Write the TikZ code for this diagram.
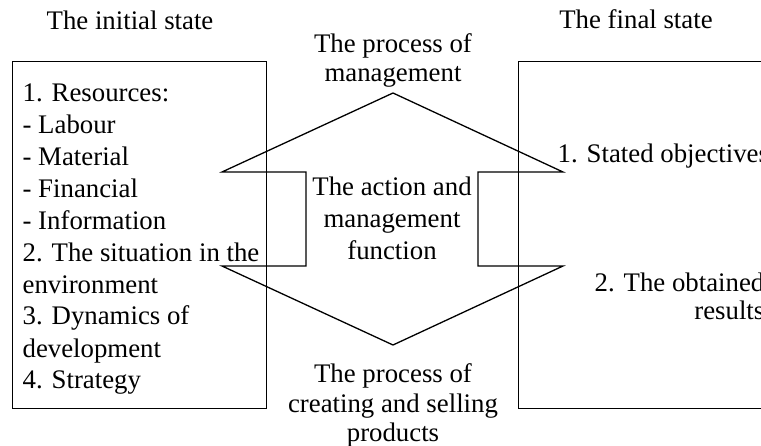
\documentclass[tikz,border=0pt]{standalone}
\usepackage{fontspec}
\setmainfont{Liberation Serif}
\usetikzlibrary{positioning}

\begin{document}
\begin{tikzpicture}[
    x=1pt,y=-1pt,line width=1.3pt,
    statebox/.style={draw, rectangle, inner sep=0pt, minimum height=347pt, anchor=north west},
    txt/.style={inner sep=0pt, font=\fontsize{26.8}{32}\selectfont},
    proc/.style={txt, align=center, font=\fontsize{26.8}{29.5}\selectfont}
]
    \useasboundingbox (0,0) rectangle (761,446);
    \clip (0,0) rectangle (761,446);

    % State boxes
    \node[statebox, minimum width=254pt] (initbox) at (12,61) {};
    \node[statebox, minimum width=320pt] (finalbox) at (518,61) {};

    % Headers
    \node[txt, anchor=base] (inithead) at (130,30) {The initial state};
    \node[txt, anchor=base] (finalhead) at (636,29) {The final state};

    % Box contents (multi-line nodes sit on their last baseline)
    \node[txt, align=left, anchor=base west] (initlist) at (22,389)
        {1. Resources:\\- Labour\\- Material\\- Financial\\- Information\\2. The situation in the\\environment\\3. Dynamics of\\development\\4. Strategy};
    \node[txt, anchor=base west] (goals) at (557,163) {1. Stated objectives};
    \node[txt, align=right, anchor=base east, font=\fontsize{26.8}{28.5}\selectfont] (results) at (765,320) {2. The obtained\\results};

    % Double arrow
    \coordinate (uptip) at (393,93);
    \coordinate (downtip) at (393,345);
    \draw (222,172) -- (uptip) -- (563,172) -- (478,172) -- (478,266) -- (563,266)
        -- (downtip) -- (222,266) -- (306,266) -- (306,172) -- cycle;

    % Process labels
    \node[proc, anchor=base] (mgmt) at (393,82) {The process of\\management};
    \node[txt, align=center, anchor=base] (action) at (392,260) {The action and\\management\\function};
    \node[proc, anchor=base] (prod) at (393,442) {The process of\\creating and selling\\products};
\end{tikzpicture}
\end{document}
